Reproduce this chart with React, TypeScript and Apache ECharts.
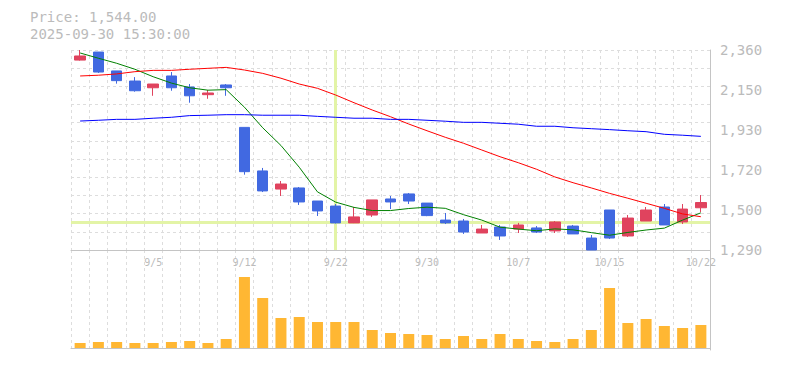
import { useEffect, useRef } from "react";
import * as echarts from "echarts";

const dates = ["9/1","9/2","9/3","9/4","9/5","9/8","9/9","9/10","9/11","9/12","9/16","9/17","9/18","9/19","9/22","9/24","9/25","9/26","9/29","9/30","10/1","10/2","10/3","10/6","10/7","10/8","10/9","10/10","10/14","10/15","10/16","10/17","10/20","10/21","10/22"];
const opens = [2306,2349,2248,2194,2158,2221,2162,2121,2173,1946,1713,1616,1622,1552,1525,1435,1477,1563,1590,1541,1450,1445,1381,1413,1402,1408,1392,1418,1354,1504,1365,1445,1520,1440,1516];
const closes = [2328,2242,2196,2142,2178,2158,2115,2130,2158,1709,1606,1643,1547,1499,1435,1467,1558,1547,1552,1474,1435,1386,1402,1365,1424,1386,1440,1376,1290,1354,1461,1504,1424,1509,1544];
const lows = [2303,2237,2180,2137,2115,2142,2078,2099,2115,1693,1600,1579,1531,1472,1432,1434,1467,1509,1536,1471,1429,1376,1381,1344,1381,1381,1381,1376,1290,1349,1360,1445,1424,1429,1493];
const highs = [2360,2349,2248,2215,2178,2242,2178,2146,2178,1946,1729,1659,1627,1552,1536,1520,1558,1579,1595,1541,1488,1456,1424,1424,1435,1418,1445,1424,1370,1504,1477,1520,1536,1536,1584];
const ma5 = [2344,2316,2289,2257,2217,2183,2158,2145,2148,2054,1944,1849,1733,1601,1546,1518,1501,1501,1512,1519,1513,1479,1450,1412,1402,1393,1403,1398,1383,1369,1384,1397,1407,1450,1489];
const ma25 = [2221,2225,2232,2244,2251,2251,2257,2262,2267,2253,2235,2209,2178,2155,2119,2078,2039,2003,1964,1928,1893,1861,1825,1789,1757,1722,1681,1650,1622,1593,1567,1540,1513,1483,1468];
const ma75 = [1980,1984,1989,1989,1995,2000,2009,2011,2014,2014,2011,2011,2011,2005,2000,1995,1995,1989,1989,1984,1979,1973,1973,1968,1963,1952,1952,1944,1939,1934,1928,1923,1909,1904,1898];
const volumes = [20,24,24,20,20,24,28,20,36,284,200,120,124,104,104,104,72,60,56,52,36,48,36,56,36,28,24,36,72,240,100,116,88,80,92];
const priceTickLabels = ["1,290","1,500","1,720","1,930","2,150","2,360"];
const priceMin = 1290;
const priceMax = 2360;
const priceLabel = "Price: 1,544.00";
const timeLabel = "2025-09-30 15:30:00";
const crossDate = "9/22";
const crossPrice = 1438;

const MONO = '"DejaVu Sans Mono", monospace';
const TEXT = "#bbbbbb";
const AXIS = "#c4c4c4";
const GRIDC = "#dddddd";
const UP = "#e0435e";
const DOWN = "#4169e1";

export default function App() {
  const ref = useRef<HTMLDivElement>(null);
  useEffect(() => {
    const chart = echarts.init(ref.current!, null, { renderer: "svg" });
    const candleData = dates.map((_, i) => [opens[i], closes[i], lows[i], highs[i]]);
    const dash = { color: GRIDC, width: 1, type: [3, 3] as any };
    chart.setOption({
      animation: false,
      backgroundColor: "#ffffff",
      graphic: [
        { type: "text", x: 30, y: 17, style: { text: priceLabel, font: `14px ${MONO}`, fill: TEXT, verticalAlign: "middle" } },
        { type: "text", x: 30, y: 33.5, style: { text: timeLabel, font: `14px ${MONO}`, fill: TEXT, verticalAlign: "middle" } },
      ],
      grid: [
        { left: 71, right: 75, top: 50, height: 200 },
        { left: 71, right: 75, top: 250, height: 100 },
      ],
      xAxis: [
        {
          type: "category", gridIndex: 0, data: dates, boundaryGap: true,
          axisLine: { show: true, lineStyle: { color: AXIS, width: 1 } },
          axisTick: { show: false, interval: 0 },
          axisLabel: {
            interval: (i: number) => (i + 1) % 5 === 0,
            color: TEXT, fontSize: 10, fontFamily: MONO, margin: 7,
          },
          splitLine: { show: true, interval: 0, lineStyle: dash },
        },
        {
          type: "category", gridIndex: 1, data: dates, boundaryGap: true,
          axisLine: { show: true, lineStyle: { color: AXIS, width: 1 } },
          axisTick: { show: false, interval: 0 },
          axisLabel: { show: false },
          splitLine: { show: true, interval: 0, lineStyle: dash },
        },
      ],
      yAxis: [
        { type: "value", gridIndex: 0, min: priceMin, max: priceMax, show: false, splitLine: { show: false } },
        {
          type: "value", gridIndex: 0, position: "right", min: 0, max: 5, interval: 1,
          axisLine: { show: true, lineStyle: { color: AXIS, width: 1 } },
          axisTick: { show: false },
          splitLine: { show: false },
          axisLabel: {
            formatter: (v: number) => priceTickLabels[Math.round(v)] ?? "",
            color: TEXT, fontSize: 14, fontFamily: MONO, margin: 10, padding: [6, 0, 0, 0],
          },
        },
        {
          type: "value", gridIndex: 0, position: "left", min: 0, max: 11, interval: 1,
          axisLine: { show: false }, axisTick: { show: false }, axisLabel: { show: false },
          splitLine: { show: true, lineStyle: dash },
        },
        {
          type: "value", gridIndex: 1, position: "right", min: -8, max: 392,
          axisLine: { show: true, lineStyle: { color: AXIS, width: 1 } },
          axisTick: { show: false }, axisLabel: { show: false }, splitLine: { show: false },
        },
      ],
      series: [
        {
          type: "candlestick", xAxisIndex: 0, yAxisIndex: 0, data: candleData, barWidth: 11, z: 2,
          itemStyle: { color: UP, color0: DOWN, borderColor: UP, borderColor0: DOWN, borderWidth: 1 },
          markLine: {
            silent: true, symbol: "none", z: 1,
            label: { show: false },
            lineStyle: { color: "#e3f4a6", width: 3, type: "solid" },
            data: [{ xAxis: crossDate }, { yAxis: crossPrice }],
          },
        },
        { type: "line", xAxisIndex: 0, yAxisIndex: 0, data: ma5, showSymbol: false, symbol: "none", z: 3, lineStyle: { color: "#008000", width: 1 } },
        { type: "line", xAxisIndex: 0, yAxisIndex: 0, data: ma25, showSymbol: false, symbol: "none", z: 3, lineStyle: { color: "#ff0000", width: 1 } },
        { type: "line", xAxisIndex: 0, yAxisIndex: 0, data: ma75, showSymbol: false, symbol: "none", z: 3, lineStyle: { color: "#0000ff", width: 1 } },
        { type: "bar", xAxisIndex: 1, yAxisIndex: 3, data: volumes, barWidth: 11, itemStyle: { color: "#ffb733" } },
      ],
    });
    return () => chart.dispose();
  }, []);
  return <div ref={ref} style={{ position: "fixed", left: 0, top: 0, width: 785, height: 370 }} />;
}
